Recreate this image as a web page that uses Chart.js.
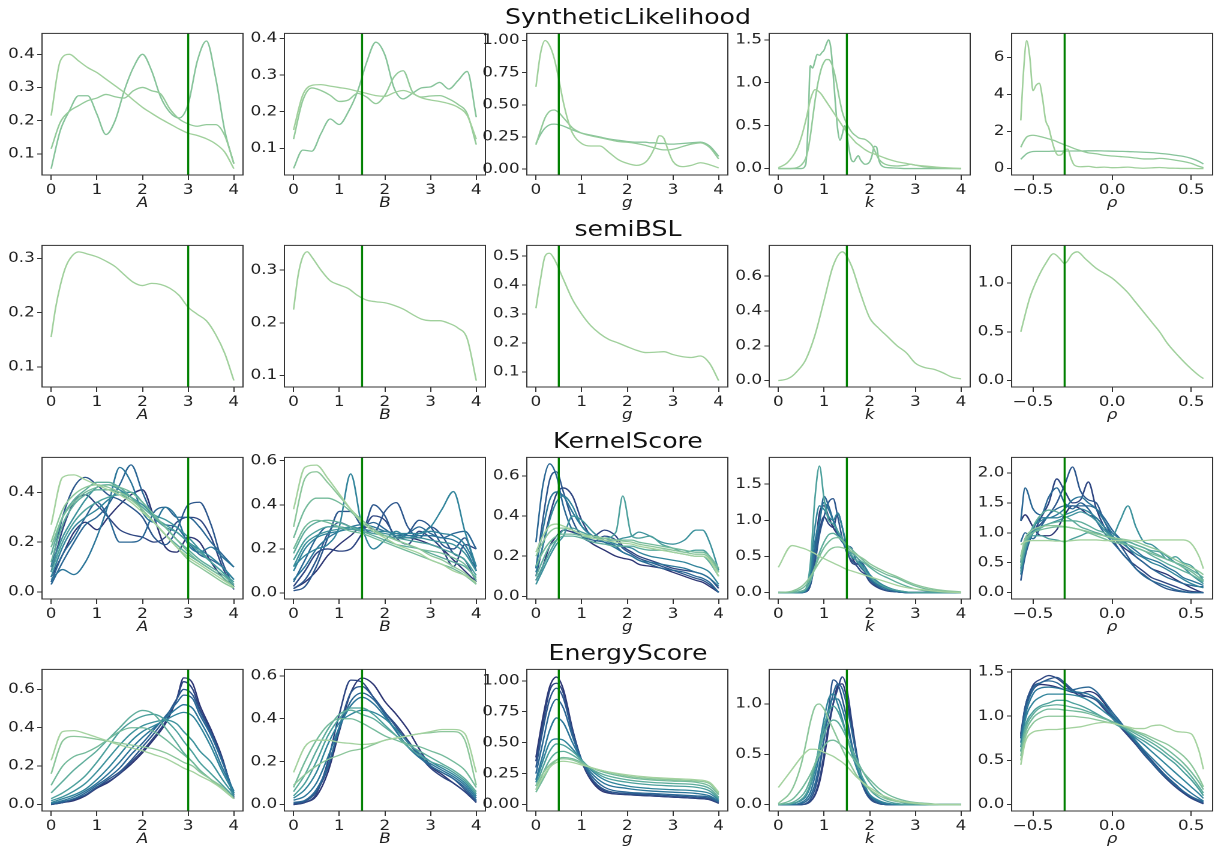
<!DOCTYPE html>
<html>
<head>
<meta charset="UTF-8">
<title>posterior marginals</title>
<style>
  html, body { margin: 0; padding: 0; background: #fff; }
  #fig { position: absolute; left: 0; top: 0; width: 1015px; height: 854px; transform: scaleX(1.2); transform-origin: 0 0; }
  #fig canvas { position: absolute; }
  .rowtitle { position: absolute; width: 400px; text-align: center; font-family: 'DejaVu Sans'; font-size: 21px; line-height: 26px; color: #111; }
</style>
</head>
<body>
<div id="fig"></div>
<script src="https://cdn.jsdelivr.net/npm/chart.js@4.4.0/dist/chart.umd.min.js"></script>
<script>
// ---------- labels / ticks ----------
const rowTitles = ['SyntheticLikelihood', 'semiBSL', 'KernelScore', 'EnergyScore'];
const paramLabels = ['A', 'B', 'g', 'k', 'ρ'];
const trueValues = [3, 1.5, 0.5, 1.5, -0.3];
const xTicks04 = [0, 1, 2, 3, 4];
const xLabels04 = ['0', '1', '2', '3', '4'];
const xTicksRho = [-0.5, 0, 0.5];
const xLabelsRho = ['\u22120.5', '0.0', '0.5'];

// ---------- x grids ----------
const x02 = [0,0.2,0.4,0.6,0.8,1,1.2,1.4,1.6,1.8,2,2.2,2.4,2.6,2.8,3,3.2,3.4,3.6,3.8,4];
const x02b = [0,0.1,0.2,0.3,0.4,0.6,0.8,1,1.2,1.4,1.6,1.8,2,2.2,2.4,2.6,2.8,3,3.2,3.4,3.6,3.8,4];
const x025 = [0,0.25,0.5,0.75,1,1.25,1.5,1.75,2,2.25,2.5,2.75,3,3.25,3.5,3.75,4];
const slGx = [0,0.1,0.2,0.3,0.4,0.5,0.6,0.7,0.8,1,1.2,1.4,1.6,1.8,2,2.2,2.4,2.5,2.6,2.7,2.8,2.9,3,3.2,3.4,3.6,3.8,4];
const slKx = [0,0.2,0.4,0.5,0.6,0.65,0.7,0.75,0.8,0.85,0.9,0.95,1,1.05,1.1,1.15,1.2,1.25,1.3,1.35,1.4,1.45,1.5,1.55,1.6,1.65,1.7,1.75,1.8,1.9,2,2.05,2.1,2.15,2.2,2.3,2.4,2.6,2.8,2.9,3,3.2,3.5,4];
const slRhoX = [-0.577,-0.56,-0.54,-0.52,-0.5,-0.48,-0.46,-0.44,-0.42,-0.4,-0.38,-0.36,-0.34,-0.32,-0.3,-0.28,-0.26,-0.24,-0.2,-0.15,-0.1,-0.05,0,0.05,0.1,0.15,0.2,0.25,0.3,0.35,0.4,0.45,0.5,0.55,0.577];
const sbRhoX = [-0.577,-0.52,-0.47,-0.42,-0.37,-0.33,-0.3,-0.25,-0.22,-0.17,-0.1,-0.05,0,0.05,0.1,0.15,0.2,0.25,0.3,0.35,0.42,0.48,0.55,0.577];
const ksGx = [0,0.15,0.3,0.45,0.6,0.8,1,1.25,1.5,1.75,1.9,2.1,2.25,2.5,2.75,3,3.25,3.5,3.65,3.8,4];
const kGrid = [0,0.3,0.5,0.6,0.7,0.8,0.9,1,1.1,1.2,1.3,1.4,1.5,1.6,1.7,1.8,1.9,2,2.2,2.4,2.6,2.8,3,3.3,3.6,4];
const rhoGrid = [-0.577,-0.55,-0.5,-0.45,-0.4,-0.35,-0.3,-0.25,-0.2,-0.15,-0.1,-0.05,0,0.05,0.1,0.15,0.2,0.25,0.3,0.35,0.4,0.45,0.5,0.55,0.577];
const esAx = [0,0.25,0.5,0.75,1,1.25,1.5,1.75,2,2.25,2.5,2.75,2.9,3.1,3.25,3.5,3.75,4];
const esGx = [0,0.15,0.3,0.45,0.6,0.8,1,1.2,1.5,2,2.5,3,3.5,3.8,4];

// ---------- SyntheticLikelihood ----------
const slA = [
  [0.215,0.38,0.40,0.38,0.36,0.345,0.325,0.305,0.285,0.262,0.24,0.222,0.205,0.19,0.175,0.162,0.155,0.145,0.13,0.105,0.055],
  [0.115,0.195,0.228,0.245,0.26,0.268,0.279,0.272,0.268,0.29,0.30,0.29,0.28,0.235,0.205,0.19,0.183,0.188,0.188,0.155,0.07],
  [0.055,0.17,0.23,0.275,0.275,0.22,0.158,0.2,0.29,0.36,0.40,0.35,0.27,0.225,0.208,0.25,0.38,0.44,0.33,0.17,0.07]
];
const slB = [
  [0.15,0.245,0.272,0.274,0.27,0.266,0.262,0.256,0.25,0.244,0.242,0.252,0.258,0.25,0.238,0.232,0.228,0.222,0.212,0.19,0.125],
  [0.125,0.23,0.265,0.258,0.245,0.228,0.232,0.25,0.24,0.222,0.245,0.295,0.312,0.255,0.24,0.243,0.244,0.235,0.22,0.195,0.11],
  [0.045,0.095,0.092,0.14,0.18,0.165,0.2,0.255,0.335,0.39,0.355,0.265,0.235,0.25,0.265,0.268,0.28,0.262,0.285,0.31,0.185]
];
const slG = [
  [0.64,0.9,1.0,0.96,0.86,0.7,0.52,0.38,0.28,0.2,0.18,0.18,0.13,0.075,0.045,0.03,0.055,0.1,0.17,0.26,0.24,0.14,0.06,0.02,0.03,0.05,0.035,0.01],
  [0.19,0.3,0.4,0.45,0.46,0.44,0.4,0.36,0.32,0.28,0.26,0.245,0.23,0.215,0.21,0.2,0.185,0.175,0.165,0.155,0.15,0.15,0.155,0.175,0.195,0.205,0.17,0.08],
  [0.2,0.27,0.32,0.345,0.35,0.345,0.335,0.32,0.305,0.28,0.265,0.25,0.235,0.225,0.215,0.21,0.21,0.205,0.205,0.2,0.2,0.195,0.195,0.2,0.205,0.21,0.18,0.1]
];
const slK = [
  [0.01,0.07,0.22,0.36,0.56,0.68,0.8,0.88,0.92,0.91,0.89,0.86,0.82,0.78,0.74,0.7,0.66,0.62,0.58,0.54,0.5,0.46,0.42,0.39,0.36,0.33,0.3,0.28,0.26,0.22,0.19,0.18,0.17,0.16,0.15,0.13,0.11,0.08,0.06,0.05,0.04,0.03,0.015,0],
  [0,0,0.01,0.04,0.12,0.22,0.38,0.58,0.78,0.95,1.08,1.18,1.24,1.27,1.27,1.24,1.17,1.06,0.92,0.78,0.66,0.58,0.52,0.47,0.43,0.4,0.38,0.36,0.35,0.34,0.3,0.27,0.22,0.16,0.11,0.06,0.04,0.03,0.04,0.05,0.04,0.02,0.005,0],
  [0,0,0,0,0.05,0.5,1.2,1.17,1.25,1.33,1.32,1.35,1.38,1.45,1.5,1.4,1.1,0.75,0.45,0.33,0.4,0.5,0.4,0.22,0.1,0.08,0.12,0.15,0.1,0.05,0.08,0.15,0.26,0.25,0.1,0.02,0.01,0.005,0,0,0,0,0,0]
];
const slRho = [
  [2.6,5.2,6.9,6.0,4.2,4.5,4.6,3.8,2.6,2.2,1.5,0.95,0.72,0.75,1.0,1.05,0.55,0.2,0.1,0.12,0.06,0.08,0.05,0.06,0.08,0.04,0.02,0.04,0.06,0.03,0.02,0.01,0.01,0,0],
  [1.15,1.45,1.7,1.78,1.8,1.78,1.74,1.7,1.65,1.6,1.55,1.5,1.42,1.35,1.28,1.22,1.15,1.08,0.97,0.85,0.8,0.72,0.68,0.65,0.62,0.57,0.52,0.52,0.55,0.52,0.45,0.38,0.28,0.12,0.05],
  [0.5,0.65,0.8,0.88,0.92,0.93,0.93,0.93,0.93,0.93,0.94,0.94,0.94,0.94,0.95,0.95,0.95,0.95,0.95,0.96,0.96,0.95,0.94,0.93,0.92,0.9,0.88,0.86,0.82,0.78,0.72,0.66,0.55,0.38,0.25]
];

// ---------- semiBSL ----------
const sbA = [[0.155,0.21,0.25,0.28,0.298,0.312,0.308,0.303,0.295,0.285,0.27,0.256,0.25,0.254,0.252,0.245,0.232,0.21,0.197,0.185,0.16,0.125,0.075]];
const sbB = [[0.225,0.29,0.325,0.335,0.325,0.3,0.28,0.272,0.265,0.252,0.243,0.24,0.238,0.233,0.226,0.216,0.207,0.204,0.204,0.199,0.19,0.17,0.09]];
const sbG = [[0.32,0.42,0.5,0.51,0.49,0.42,0.35,0.3,0.26,0.232,0.212,0.2,0.187,0.175,0.167,0.168,0.17,0.16,0.153,0.15,0.155,0.13,0.07]];
const sbK = [[0,0.003,0.01,0.025,0.05,0.12,0.26,0.46,0.66,0.74,0.66,0.5,0.36,0.3,0.25,0.2,0.16,0.1,0.075,0.065,0.045,0.02,0.01]];
const sbRho = [[0.5,0.85,1.05,1.2,1.3,1.25,1.2,1.3,1.32,1.25,1.15,1.1,1.05,0.98,0.9,0.8,0.7,0.6,0.5,0.38,0.25,0.15,0.05,0.02]];

// ---------- KernelScore ----------
const ksA = [
  [0.27,0.46,0.47,0.45,0.43,0.41,0.39,0.36,0.32,0.28,0.23,0.18,0.14,0.11,0.08,0.05,0.02],
  [0.2,0.33,0.39,0.42,0.43,0.42,0.4,0.37,0.33,0.28,0.23,0.18,0.13,0.1,0.07,0.04,0.015],
  [0.18,0.3,0.36,0.4,0.42,0.43,0.42,0.4,0.36,0.31,0.26,0.21,0.16,0.12,0.09,0.06,0.02],
  [0.15,0.3,0.37,0.41,0.44,0.44,0.42,0.38,0.33,0.28,0.23,0.19,0.15,0.12,0.09,0.06,0.02],
  [0.12,0.27,0.35,0.39,0.41,0.41,0.4,0.38,0.34,0.3,0.26,0.21,0.17,0.13,0.1,0.07,0.03],
  [0.08,0.2,0.28,0.33,0.36,0.38,0.39,0.37,0.34,0.3,0.27,0.24,0.2,0.16,0.12,0.08,0.04],
  [0.1,0.22,0.3,0.37,0.42,0.43,0.41,0.38,0.35,0.31,0.29,0.26,0.22,0.17,0.12,0.08,0.03],
  [0.06,0.18,0.26,0.3,0.33,0.37,0.4,0.4,0.36,0.3,0.26,0.24,0.2,0.17,0.14,0.1,0.05],
  [0.05,0.09,0.07,0.12,0.22,0.35,0.5,0.44,0.32,0.28,0.34,0.3,0.19,0.16,0.18,0.14,0.1],
  [0.03,0.12,0.2,0.27,0.3,0.35,0.43,0.51,0.4,0.3,0.27,0.26,0.2,0.15,0.13,0.1,0.05],
  [0.04,0.15,0.22,0.3,0.36,0.3,0.2,0.2,0.22,0.32,0.34,0.3,0.3,0.26,0.2,0.15,0.1],
  [0.1,0.3,0.42,0.46,0.43,0.39,0.37,0.34,0.3,0.22,0.19,0.25,0.35,0.36,0.27,0.12,0.02],
  [0.08,0.25,0.36,0.39,0.35,0.3,0.25,0.23,0.22,0.2,0.22,0.28,0.3,0.29,0.22,0.1,0.01],
  [0.06,0.15,0.24,0.28,0.25,0.3,0.35,0.39,0.41,0.3,0.18,0.16,0.22,0.2,0.12,0.06,0.02]
];
const ksB = [
  [0.38,0.57,0.58,0.52,0.45,0.38,0.32,0.28,0.25,0.22,0.2,0.18,0.15,0.13,0.1,0.08,0.05],
  [0.3,0.52,0.55,0.5,0.44,0.38,0.33,0.29,0.26,0.24,0.22,0.2,0.17,0.15,0.12,0.09,0.04],
  [0.25,0.38,0.43,0.43,0.41,0.37,0.32,0.28,0.26,0.24,0.22,0.2,0.19,0.18,0.16,0.13,0.06],
  [0.2,0.3,0.33,0.32,0.3,0.28,0.27,0.25,0.23,0.21,0.19,0.17,0.15,0.13,0.11,0.08,0.04],
  [0.18,0.28,0.32,0.33,0.32,0.3,0.28,0.26,0.24,0.22,0.21,0.2,0.18,0.16,0.14,0.12,0.07],
  [0.15,0.24,0.28,0.3,0.3,0.29,0.28,0.27,0.26,0.25,0.24,0.23,0.22,0.2,0.18,0.15,0.08],
  [0.12,0.22,0.26,0.28,0.29,0.3,0.29,0.28,0.27,0.26,0.25,0.25,0.24,0.23,0.22,0.18,0.1],
  [0.1,0.2,0.25,0.27,0.28,0.29,0.29,0.28,0.28,0.27,0.27,0.27,0.28,0.27,0.26,0.22,0.12],
  [0.12,0.17,0.2,0.22,0.3,0.54,0.3,0.2,0.24,0.28,0.25,0.27,0.3,0.38,0.46,0.28,0.12],
  [0.06,0.12,0.2,0.25,0.28,0.3,0.31,0.3,0.28,0.27,0.26,0.26,0.26,0.25,0.24,0.2,0.1],
  [0.05,0.15,0.25,0.3,0.3,0.29,0.3,0.32,0.29,0.26,0.27,0.3,0.27,0.25,0.27,0.28,0.2],
  [0.02,0.06,0.15,0.27,0.32,0.3,0.28,0.4,0.35,0.25,0.27,0.33,0.3,0.22,0.2,0.25,0.1],
  [0.01,0.03,0.12,0.25,0.37,0.37,0.3,0.27,0.37,0.41,0.3,0.25,0.3,0.26,0.18,0.15,0.05],
  [0.03,0.1,0.18,0.2,0.19,0.2,0.27,0.35,0.33,0.25,0.22,0.28,0.25,0.2,0.12,0.22,0.2],
  [0.02,0.05,0.1,0.17,0.22,0.26,0.3,0.29,0.26,0.25,0.25,0.24,0.22,0.2,0.15,0.1,0.05]
];
const ksG = [
  [0.22,0.3,0.35,0.36,0.35,0.33,0.31,0.29,0.28,0.27,0.265,0.26,0.25,0.24,0.23,0.22,0.21,0.2,0.2,0.18,0.1],
  [0.2,0.27,0.32,0.34,0.34,0.33,0.31,0.3,0.29,0.28,0.275,0.27,0.26,0.25,0.24,0.23,0.22,0.21,0.21,0.19,0.12],
  [0.15,0.22,0.27,0.3,0.31,0.31,0.3,0.29,0.29,0.28,0.28,0.28,0.27,0.26,0.25,0.24,0.23,0.22,0.22,0.2,0.14],
  [0.1,0.18,0.25,0.28,0.3,0.3,0.29,0.27,0.26,0.25,0.25,0.25,0.24,0.23,0.23,0.22,0.21,0.2,0.2,0.17,0.1],
  [0.08,0.15,0.22,0.28,0.33,0.34,0.32,0.3,0.29,0.32,0.5,0.3,0.29,0.3,0.26,0.24,0.22,0.23,0.23,0.2,0.12],
  [0.06,0.13,0.2,0.26,0.3,0.4,0.38,0.32,0.28,0.28,0.29,0.3,0.32,0.3,0.27,0.26,0.28,0.33,0.33,0.27,0.13],
  [0.12,0.25,0.38,0.47,0.5,0.45,0.35,0.3,0.28,0.26,0.25,0.24,0.22,0.2,0.19,0.18,0.17,0.15,0.14,0.12,0.06],
  [0.14,0.33,0.48,0.52,0.5,0.42,0.35,0.3,0.27,0.24,0.22,0.2,0.18,0.17,0.16,0.15,0.14,0.12,0.11,0.09,0.05],
  [0.27,0.55,0.66,0.6,0.45,0.33,0.3,0.28,0.27,0.25,0.22,0.2,0.18,0.16,0.14,0.13,0.12,0.1,0.09,0.07,0.02],
  [0.14,0.38,0.58,0.62,0.52,0.38,0.3,0.27,0.3,0.28,0.24,0.21,0.19,0.17,0.15,0.13,0.11,0.09,0.08,0.06,0.02],
  [0.1,0.25,0.4,0.51,0.54,0.5,0.38,0.3,0.33,0.3,0.25,0.22,0.2,0.18,0.16,0.14,0.13,0.12,0.11,0.09,0.04],
  [0.08,0.15,0.25,0.3,0.33,0.32,0.3,0.26,0.23,0.2,0.19,0.18,0.16,0.15,0.14,0.12,0.1,0.08,0.07,0.05,0.02]
];
const ksK = [
  [0.35,0.65,0.62,0.6,0.57,0.54,0.5,0.47,0.44,0.41,0.38,0.35,0.32,0.3,0.28,0.26,0.24,0.22,0.18,0.14,0.1,0.07,0.05,0.03,0.01,0],
  [0,0.02,0.08,0.14,0.22,0.32,0.42,0.5,0.58,0.62,0.63,0.62,0.6,0.57,0.53,0.49,0.45,0.4,0.33,0.27,0.22,0.16,0.11,0.06,0.03,0.01],
  [0,0.01,0.05,0.1,0.2,0.35,0.5,0.62,0.7,0.75,0.76,0.72,0.66,0.6,0.54,0.48,0.42,0.37,0.3,0.24,0.2,0.14,0.09,0.04,0.02,0.005],
  [0,0,0.02,0.05,0.15,0.35,0.55,0.7,0.8,0.82,0.78,0.72,0.64,0.56,0.5,0.44,0.4,0.35,0.26,0.2,0.14,0.09,0.05,0.02,0.01,0],
  [0,0,0.01,0.05,0.4,1.3,1.75,1.3,1.0,0.95,0.85,0.75,0.62,0.52,0.45,0.38,0.3,0.22,0.12,0.06,0.03,0.01,0,0,0,0],
  [0,0,0,0.03,0.3,0.9,1.2,1.15,1.05,1.0,1.1,0.9,0.65,0.5,0.45,0.4,0.35,0.25,0.14,0.07,0.03,0.01,0,0,0,0],
  [0,0,0,0.02,0.2,0.7,1.0,1.25,1.15,1.0,0.85,0.72,0.6,0.55,0.5,0.42,0.3,0.2,0.1,0.05,0.02,0,0,0,0,0],
  [0,0,0,0.02,0.15,0.55,0.95,1.33,1.2,1.0,0.8,0.7,0.65,0.62,0.45,0.35,0.28,0.18,0.08,0.03,0.01,0,0,0,0,0],
  [0,0,0,0.01,0.1,0.4,0.8,1.05,1.25,1.3,1.05,0.75,0.55,0.45,0.4,0.42,0.35,0.2,0.1,0.05,0.02,0,0,0,0,0],
  [0,0,0,0.01,0.1,0.45,0.85,1.05,0.95,0.9,1.1,0.9,0.6,0.42,0.38,0.3,0.25,0.15,0.06,0.02,0.01,0,0,0,0,0],
  [0,0,0,0.01,0.12,0.6,1.1,1.2,1.05,0.9,0.8,0.7,0.62,0.5,0.4,0.38,0.28,0.18,0.07,0.03,0.01,0,0,0,0,0]
];
const ksRho = [
  [0.8,0.85,0.87,0.87,0.87,0.86,0.86,0.87,0.88,0.88,0.88,0.87,0.87,0.87,0.87,0.87,0.87,0.88,0.88,0.88,0.88,0.88,0.82,0.6,0.4],
  [0.6,0.9,1.05,1.1,1.12,1.12,1.1,1.08,1.05,1.02,0.98,0.95,0.92,0.9,0.88,0.85,0.8,0.75,0.7,0.62,0.55,0.48,0.42,0.35,0.3],
  [0.55,0.85,1.0,1.05,1.08,1.1,1.1,1.08,1.05,1.0,0.95,0.9,0.85,0.82,0.8,0.75,0.7,0.65,0.6,0.55,0.5,0.42,0.35,0.25,0.2],
  [0.5,0.8,1.0,1.08,1.15,1.18,1.2,1.2,1.18,1.12,1.05,1.0,0.92,0.88,0.85,0.8,0.75,0.68,0.62,0.55,0.5,0.45,0.38,0.3,0.25],
  [0.45,0.75,1.1,1.3,1.38,1.35,1.28,1.2,1.1,1.05,1.0,0.95,0.9,0.85,0.8,0.75,0.7,0.62,0.55,0.48,0.42,0.36,0.3,0.22,0.18],
  [0.6,0.85,0.95,0.95,0.9,0.88,0.85,0.9,0.95,1.0,1.0,0.95,0.9,0.85,0.85,0.8,0.75,0.7,0.68,0.55,0.6,0.5,0.45,0.3,0.2],
  [0.35,0.7,1.0,1.1,1.15,1.2,1.25,1.3,1.35,1.3,1.2,1.05,0.95,1.2,1.45,1.1,0.85,0.8,0.7,0.6,0.5,0.42,0.3,0.2,0.15],
  [0.4,0.75,1.1,1.2,1.25,1.25,1.3,1.35,1.4,1.35,1.25,1.1,0.95,0.85,0.75,0.65,0.58,0.5,0.45,0.38,0.3,0.22,0.15,0.1,0.08],
  [0.3,0.65,1.05,1.25,1.25,1.3,1.4,1.55,1.6,1.5,1.4,1.2,1.0,0.9,0.8,0.7,0.6,0.55,0.5,0.42,0.35,0.25,0.2,0.15,0.12],
  [0.85,1.0,0.9,1.1,1.3,1.4,1.45,1.45,1.45,1.45,1.4,1.25,1.05,0.9,0.75,0.6,0.5,0.4,0.32,0.25,0.2,0.15,0.12,0.1,0.1],
  [1.2,1.75,1.4,1.3,1.6,1.75,1.5,1.4,1.5,1.4,1.2,1.0,0.85,0.7,0.55,0.4,0.28,0.2,0.15,0.1,0.05,0.02,0,0,0],
  [0.2,0.6,1.0,1.15,1.3,1.5,1.8,2.1,1.7,1.55,1.5,1.2,0.95,0.8,0.6,0.4,0.3,0.2,0.12,0.06,0.03,0.01,0,0,0],
  [0.5,0.9,1.0,1.25,1.5,1.9,1.7,1.5,1.55,1.85,1.4,1.1,0.9,0.7,0.55,0.45,0.35,0.25,0.2,0.15,0.1,0.05,0.02,0.01,0],
  [1.2,1.3,1.1,0.95,0.95,1.05,1.3,1.45,1.4,1.3,1.25,1.1,0.95,0.8,0.7,0.6,0.5,0.4,0.35,0.3,0.22,0.15,0.08,0.02,0]
];

// ---------- EnergyScore ----------
const esA = [
  [0.23,0.38,0.385,0.37,0.35,0.33,0.31,0.295,0.28,0.26,0.24,0.21,0.19,0.17,0.15,0.12,0.08,0.03],
  [0.16,0.33,0.355,0.35,0.34,0.33,0.32,0.31,0.3,0.29,0.27,0.24,0.22,0.2,0.17,0.13,0.09,0.03],
  [0.1,0.2,0.25,0.27,0.3,0.34,0.38,0.4,0.4,0.38,0.34,0.29,0.26,0.22,0.18,0.13,0.08,0.03],
  [0.06,0.12,0.18,0.23,0.28,0.34,0.4,0.46,0.49,0.47,0.4,0.32,0.27,0.22,0.18,0.13,0.08,0.03],
  [0.03,0.06,0.1,0.15,0.22,0.3,0.38,0.43,0.46,0.47,0.44,0.38,0.33,0.27,0.22,0.16,0.1,0.04],
  [0.02,0.04,0.07,0.11,0.17,0.24,0.31,0.37,0.41,0.43,0.44,0.42,0.38,0.33,0.28,0.22,0.13,0.05],
  [0.01,0.03,0.05,0.08,0.13,0.19,0.26,0.33,0.38,0.41,0.44,0.47,0.48,0.46,0.41,0.3,0.17,0.06],
  [0.005,0.02,0.04,0.07,0.11,0.16,0.22,0.29,0.35,0.4,0.45,0.5,0.52,0.5,0.44,0.33,0.19,0.07],
  [0.005,0.015,0.03,0.06,0.1,0.14,0.19,0.26,0.32,0.39,0.46,0.53,0.57,0.55,0.47,0.36,0.22,0.06],
  [0,0.01,0.03,0.05,0.09,0.13,0.17,0.23,0.3,0.37,0.45,0.55,0.6,0.57,0.49,0.37,0.23,0.05],
  [0,0.01,0.025,0.05,0.09,0.12,0.16,0.22,0.28,0.35,0.43,0.55,0.64,0.6,0.5,0.38,0.23,0.04],
  [0,0.01,0.02,0.045,0.085,0.115,0.16,0.21,0.27,0.34,0.42,0.55,0.66,0.63,0.52,0.39,0.24,0.03]
];
const esB = [
  [0.15,0.27,0.3,0.3,0.29,0.285,0.28,0.285,0.3,0.31,0.32,0.33,0.34,0.35,0.35,0.33,0.15],
  [0.09,0.14,0.18,0.21,0.23,0.25,0.26,0.28,0.3,0.31,0.32,0.33,0.335,0.34,0.34,0.3,0.09],
  [0.08,0.2,0.3,0.37,0.4,0.4,0.38,0.35,0.32,0.3,0.28,0.27,0.25,0.23,0.2,0.16,0.08],
  [0.06,0.14,0.25,0.35,0.42,0.44,0.42,0.4,0.36,0.32,0.28,0.25,0.22,0.19,0.16,0.12,0.06],
  [0.04,0.1,0.2,0.32,0.4,0.45,0.45,0.42,0.37,0.32,0.27,0.23,0.2,0.18,0.15,0.11,0.05],
  [0.03,0.07,0.15,0.28,0.38,0.42,0.44,0.43,0.4,0.35,0.29,0.24,0.2,0.17,0.14,0.1,0.04],
  [0.02,0.04,0.1,0.22,0.36,0.46,0.5,0.47,0.41,0.34,0.27,0.22,0.19,0.16,0.13,0.09,0.03],
  [0.01,0.02,0.07,0.18,0.35,0.48,0.52,0.49,0.42,0.34,0.27,0.22,0.18,0.15,0.12,0.08,0.02],
  [0.005,0.015,0.06,0.17,0.36,0.52,0.55,0.5,0.43,0.36,0.29,0.23,0.18,0.15,0.12,0.07,0.015],
  [0,0.01,0.05,0.2,0.42,0.58,0.57,0.5,0.43,0.37,0.3,0.23,0.17,0.13,0.1,0.06,0.01],
  [0,0.01,0.04,0.15,0.34,0.52,0.59,0.56,0.48,0.42,0.35,0.26,0.18,0.14,0.1,0.06,0.01]
];
const esG = [
  [0.12,0.22,0.3,0.34,0.35,0.34,0.32,0.3,0.27,0.24,0.22,0.21,0.2,0.18,0.1],
  [0.15,0.25,0.32,0.36,0.37,0.36,0.33,0.3,0.27,0.23,0.21,0.2,0.19,0.17,0.09],
  [0.1,0.2,0.3,0.36,0.38,0.37,0.34,0.3,0.26,0.22,0.2,0.19,0.18,0.15,0.08],
  [0.12,0.25,0.36,0.42,0.43,0.4,0.35,0.29,0.24,0.2,0.18,0.17,0.16,0.13,0.06],
  [0.15,0.3,0.43,0.49,0.48,0.43,0.36,0.29,0.22,0.18,0.16,0.15,0.14,0.11,0.05],
  [0.18,0.35,0.5,0.53,0.52,0.45,0.36,0.28,0.2,0.15,0.13,0.12,0.11,0.09,0.04],
  [0.2,0.4,0.6,0.7,0.66,0.5,0.36,0.26,0.17,0.13,0.11,0.1,0.09,0.07,0.03],
  [0.25,0.5,0.75,0.85,0.78,0.55,0.36,0.24,0.14,0.1,0.09,0.08,0.07,0.06,0.02],
  [0.3,0.6,0.85,0.94,0.86,0.58,0.36,0.22,0.12,0.09,0.08,0.07,0.06,0.05,0.02],
  [0.35,0.65,0.92,0.98,0.9,0.6,0.36,0.21,0.11,0.08,0.07,0.06,0.05,0.04,0.01],
  [0.38,0.7,0.95,1.03,0.93,0.61,0.35,0.2,0.1,0.08,0.07,0.06,0.05,0.04,0.01]
];
const esK = [
  [0.17,0.35,0.47,0.52,0.55,0.55,0.54,0.52,0.5,0.48,0.45,0.42,0.38,0.33,0.28,0.24,0.2,0.17,0.11,0.07,0.04,0.025,0.015,0.005,0,0],
  [0.01,0.15,0.4,0.6,0.82,0.97,1.0,0.95,0.85,0.75,0.65,0.55,0.46,0.38,0.3,0.24,0.19,0.15,0.09,0.05,0.03,0.02,0.01,0,0,0],
  [0,0.05,0.15,0.22,0.3,0.4,0.5,0.58,0.63,0.64,0.62,0.58,0.54,0.48,0.42,0.36,0.3,0.25,0.16,0.1,0.06,0.035,0.02,0.01,0,0],
  [0,0.02,0.08,0.14,0.25,0.4,0.55,0.7,0.8,0.84,0.82,0.75,0.66,0.56,0.46,0.37,0.29,0.22,0.12,0.06,0.03,0.015,0.01,0,0,0],
  [0,0.01,0.05,0.1,0.2,0.38,0.58,0.78,0.92,0.98,0.93,0.82,0.68,0.54,0.42,0.31,0.22,0.15,0.07,0.03,0.01,0,0,0,0,0],
  [0,0.01,0.04,0.08,0.18,0.35,0.6,0.85,1.05,1.1,1.0,0.85,0.68,0.52,0.38,0.26,0.17,0.1,0.04,0.01,0,0,0,0,0,0],
  [0,0,0.02,0.05,0.12,0.28,0.5,0.75,0.95,1.05,1.05,0.95,0.78,0.6,0.44,0.3,0.18,0.1,0.03,0.01,0,0,0,0,0,0],
  [0,0,0.01,0.03,0.08,0.2,0.4,0.65,0.9,1.1,1.2,1.15,0.98,0.75,0.52,0.32,0.18,0.09,0.02,0,0,0,0,0,0,0],
  [0,0,0,0.01,0.05,0.15,0.35,0.65,0.95,1.24,1.2,1.05,0.85,0.62,0.42,0.25,0.13,0.06,0.01,0,0,0,0,0,0,0],
  [0,0,0,0.005,0.03,0.1,0.25,0.5,0.8,1.0,1.15,1.27,1.15,0.85,0.55,0.3,0.15,0.06,0.01,0,0,0,0,0,0,0],
  [0,0,0,0.005,0.03,0.09,0.22,0.45,0.75,1.0,1.18,1.2,1.05,0.8,0.52,0.3,0.15,0.07,0.01,0,0,0,0,0,0,0]
];
const esRho = [
  [0.45,0.7,0.82,0.84,0.85,0.85,0.86,0.87,0.88,0.9,0.92,0.93,0.92,0.9,0.88,0.86,0.86,0.89,0.9,0.87,0.83,0.82,0.8,0.6,0.4],
  [0.5,0.75,0.92,0.98,1.0,1.0,1.0,1.0,0.99,0.98,0.96,0.94,0.92,0.9,0.87,0.83,0.8,0.76,0.72,0.68,0.62,0.55,0.45,0.3,0.2],
  [0.55,0.8,0.98,1.05,1.08,1.08,1.07,1.06,1.05,1.03,1.0,0.97,0.94,0.9,0.86,0.82,0.78,0.73,0.68,0.62,0.55,0.47,0.37,0.25,0.17],
  [0.6,0.85,1.02,1.1,1.12,1.13,1.12,1.1,1.08,1.05,1.02,0.98,0.94,0.9,0.85,0.8,0.75,0.7,0.64,0.57,0.5,0.42,0.32,0.2,0.13],
  [0.6,0.88,1.05,1.12,1.15,1.18,1.18,1.15,1.12,1.08,1.03,0.98,0.93,0.88,0.83,0.77,0.72,0.66,0.6,0.53,0.46,0.37,0.28,0.17,0.1],
  [0.65,0.95,1.15,1.22,1.25,1.25,1.25,1.24,1.22,1.18,1.12,1.05,0.98,0.9,0.82,0.75,0.68,0.6,0.52,0.44,0.36,0.28,0.2,0.12,0.07],
  [0.7,1.0,1.25,1.32,1.33,1.32,1.3,1.28,1.27,1.25,1.2,1.12,1.02,0.92,0.82,0.72,0.62,0.53,0.44,0.35,0.27,0.2,0.13,0.07,0.04],
  [0.75,1.05,1.3,1.38,1.4,1.38,1.32,1.3,1.32,1.33,1.28,1.17,1.05,0.94,0.82,0.7,0.58,0.48,0.38,0.3,0.22,0.15,0.09,0.05,0.03],
  [0.75,1.1,1.33,1.38,1.42,1.44,1.38,1.3,1.25,1.22,1.18,1.1,1.0,0.9,0.8,0.7,0.6,0.5,0.4,0.31,0.23,0.15,0.09,0.04,0.02],
  [0.8,1.1,1.35,1.42,1.46,1.43,1.36,1.28,1.23,1.22,1.18,1.08,0.98,0.88,0.78,0.68,0.57,0.47,0.37,0.28,0.2,0.13,0.07,0.03,0.01],
  [0.78,1.08,1.3,1.36,1.35,1.33,1.3,1.27,1.26,1.28,1.25,1.15,1.02,0.92,0.82,0.72,0.6,0.5,0.4,0.3,0.22,0.14,0.08,0.03,0.01]
];

// ---------- y axes (range, ticks, labels) per row ----------
const slYRange = [[0.036,0.463],[0.027,0.414],[-0.045,1.055],[-0.075,1.575],[-0.345,7.29]];
const sbYRange = [[0.063,0.324],[0.078,0.347],[0.048,0.537],[-0.037,0.777],[-0.066,1.386]];
const ksYRange = [[-0.028,0.54],[-0.027,0.615],[-0.013,0.692],[-0.089,1.87],[-0.107,2.26]];
const esYRange = [[-0.034,0.704],[-0.03,0.63],[-0.052,1.092],[-0.064,1.344],[-0.073,1.53]];
const slYTicks = [[0.1,0.2,0.3,0.4],[0.1,0.2,0.3,0.4],[0,0.25,0.5,0.75,1],[0,0.5,1,1.5],[0,2,4,6]];
const sbYTicks = [[0.1,0.2,0.3],[0.1,0.2,0.3],[0.1,0.2,0.3,0.4,0.5],[0,0.2,0.4,0.6],[0,0.5,1]];
const ksYTicks = [[0,0.2,0.4],[0,0.2,0.4,0.6],[0,0.2,0.4,0.6],[0,0.5,1,1.5],[0,0.5,1,1.5,2]];
const esYTicks = [[0,0.2,0.4,0.6],[0,0.2,0.4,0.6],[0,0.25,0.5,0.75,1],[0,0.5,1],[0,0.5,1,1.5]];
const slYLabels = [['0.1','0.2','0.3','0.4'],['0.1','0.2','0.3','0.4'],['0.00','0.25','0.50','0.75','1.00'],['0.0','0.5','1.0','1.5'],['0','2','4','6']];
const sbYLabels = [['0.1','0.2','0.3'],['0.1','0.2','0.3'],['0.1','0.2','0.3','0.4','0.5'],['0.0','0.2','0.4','0.6'],['0.0','0.5','1.0']];
const ksYLabels = [['0.0','0.2','0.4'],['0.0','0.2','0.4','0.6'],['0.0','0.2','0.4','0.6'],['0.0','0.5','1.0','1.5'],['0.0','0.5','1.0','1.5','2.0']];
const esYLabels = [['0.0','0.2','0.4','0.6'],['0.0','0.2','0.4','0.6'],['0.00','0.25','0.50','0.75','1.00'],['0.0','0.5','1.0'],['0.0','0.5','1.0','1.5']];

// ---------- style / layout ----------
const crest = ['#a4d29f','#8cc69b','#74ba9b','#5fad9c','#4ca09c','#3d929c','#31849b','#2b7599','#2a6694','#2c568c','#2e4581','#2c3573'];
const slColors = ['#a0d09c', '#93ca9a', '#86c39a'];
const SX = 1.2;                // figure is stretched horizontally
const boxLeft = [42, 284, 527, 769, 1012];
const boxW = 201, boxH = 142;
const boxTop = [33, 245, 457, 669];
const YW = 42, PT = 10, XH = 42;

Chart.defaults.font.family = "'DejaVu Sans'";
Chart.defaults.color = '#222';

const truthLine = {
  id: 'truthLine',
  afterDatasetsDraw(chart, args, opts) {
    const x = chart.scales.x.getPixelForValue(opts.value);
    const a = chart.chartArea, ctx = chart.ctx;
    ctx.save();
    ctx.strokeStyle = '#008000';
    ctx.lineWidth = 1.7;
    ctx.beginPath(); ctx.moveTo(x, a.top); ctx.lineTo(x, a.bottom); ctx.stroke();
    ctx.restore();
  }
};
const frame = {
  id: 'frame',
  afterDraw(chart) {
    const a = chart.chartArea, ctx = chart.ctx;
    ctx.save();
    ctx.strokeStyle = '#333';
    ctx.lineWidth = 1;
    ctx.strokeRect(a.left, a.top, a.right - a.left, a.bottom - a.top);
    ctx.restore();
  }
};

const fig = document.getElementById('fig');

rowTitles.forEach((t, r) => {
  const d = document.createElement('div');
  d.className = 'rowtitle';
  d.textContent = t;
  d.style.left = (628 / SX - 200) + 'px';
  d.style.top = (boxTop[r] - 16 - 13) + 'px';
  fig.appendChild(d);
});

function makePanel(r, c, xs, ys, colors, yr, yt, yl) {
  const canvas = document.createElement('canvas');
  const inner = boxW / SX;
  const w = Math.ceil(YW + inner + 8);
  const h = PT + boxH + XH;
  canvas.width = w; canvas.height = h;
  canvas.style.left = (boxLeft[c] / SX - YW) + 'px';
  canvas.style.top = (boxTop[r] - PT) + 'px';
  fig.appendChild(canvas);
  const rho = c === 4;
  const xt = rho ? xTicksRho : xTicks04;
  const xl = rho ? xLabelsRho : xLabels04;
  new Chart(canvas, {
    type: 'line',
    data: {
      datasets: ys.map((y, i) => ({
        data: y.map((v, j) => ({ x: xs[j], y: v })),
        borderColor: colors[i],
        borderWidth: 1.3,
        pointRadius: 0,
        fill: false,
        cubicInterpolationMode: 'monotone'
      }))
    },
    options: {
      responsive: false,
      animation: false,
      devicePixelRatio: 2,
      events: [],
      layout: { padding: { left: 0, top: PT, right: w - YW - inner, bottom: 0 } },
      plugins: { legend: { display: false }, tooltip: { enabled: false }, truthLine: { value: trueValues[c] } },
      scales: {
        x: {
          type: 'linear',
          min: rho ? -0.635 : -0.2,
          max: rho ? 0.635 : 4.2,
          afterBuildTicks: s => { s.ticks = xt.map(v => ({ value: v })); },
          afterFit: s => { s.height = XH; },
          ticks: { callback: (v, i) => xl[i], font: { size: 14 }, color: '#222', padding: 2, maxRotation: 0, autoSkip: false },
          grid: { drawOnChartArea: false, tickLength: 5, color: '#333' },
          border: { display: false },
          title: { display: true, text: paramLabels[c], font: { size: 14, style: 'italic' }, color: '#222', padding: { top: 0, bottom: 5 } }
        },
        y: {
          min: yr[0],
          max: yr[1],
          afterBuildTicks: s => { s.ticks = yt.map(v => ({ value: v })); },
          afterFit: s => { s.width = YW; },
          ticks: { callback: (v, i) => yl[i], font: { size: 14 }, color: '#222', padding: 2, autoSkip: false },
          grid: { drawOnChartArea: false, tickLength: 4, color: '#333' },
          border: { display: false }
        }
      }
    },
    plugins: [truthLine, frame]
  });
}

function crestColors(n) {
  const out = [];
  for (let i = 0; i < n; i++) out.push(crest[Math.round(i * (crest.length - 1) / Math.max(n - 1, 1))]);
  return out;
}

// row 0: SyntheticLikelihood
[[x02, slA], [x02, slB], [slGx, slG], [slKx, slK], [slRhoX, slRho]].forEach((p, c) =>
  makePanel(0, c, p[0], p[1], slColors, slYRange[c], slYTicks[c], slYLabels[c]));
// row 1: semiBSL
[[x02b, sbA], [x02b, sbB], [x02b, sbG], [x02b, sbK], [sbRhoX, sbRho]].forEach((p, c) =>
  makePanel(1, c, p[0], p[1], [slColors[0]], sbYRange[c], sbYTicks[c], sbYLabels[c]));
// row 2: KernelScore
[[x025, ksA], [x025, ksB], [ksGx, ksG], [kGrid, ksK], [rhoGrid, ksRho]].forEach((p, c) =>
  makePanel(2, c, p[0], p[1], crestColors(p[1].length), ksYRange[c], ksYTicks[c], ksYLabels[c]));
// row 3: EnergyScore
[[esAx, esA], [x025, esB], [esGx, esG], [kGrid, esK], [rhoGrid, esRho]].forEach((p, c) =>
  makePanel(3, c, p[0], p[1], crestColors(p[1].length), esYRange[c], esYTicks[c], esYLabels[c]));
</script>
</body>
</html>
